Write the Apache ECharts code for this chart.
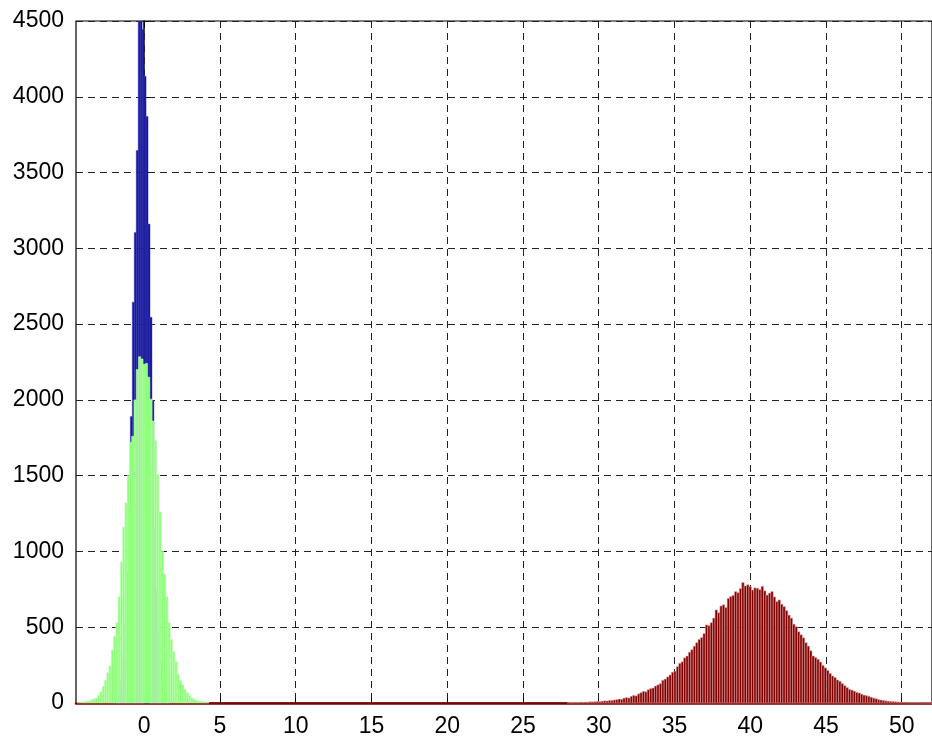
<!DOCTYPE html>
<html>
<head>
<meta charset="utf-8">
<script src="https://cdn.jsdelivr.net/npm/echarts@6/dist/echarts.min.js"></script>
<style>
html,body{margin:0;padding:0;background:#fff;}
#chart{width:932px;height:738px;}
</style>
</head>
<body>
<div id="chart"></div>
<script>
// ---- data (histogram bin counts) ----
const xTicks = [0, 5, 10, 15, 20, 25, 30, 35, 40, 45, 50];
const yTicks = [0, 500, 1000, 1500, 2000, 2500, 3000, 3500, 4000, 4500];

// blue series: first bin centre, bin width, counts
const blueStart = -1.89;
const blueWidth = 0.13;
const blueCounts = [13, 33, 76, 154, 293, 520, 863, 1300, 1890, 2645, 3105, 3645, 4520, 4560,
  4445, 4135, 3870, 3160, 2545, 1995, 1150, 755, 470, 278, 155, 82, 40, 18];

// green series
const greenStart = -4.35;
const greenWidth = 0.15;
const greenCounts = [3, 6, 5, 9, 12, 14, 22, 28, 33, 52, 75, 110, 150, 200, 245, 350, 440, 530,
  700, 930, 1160, 1320, 1500, 1720, 1760, 2000, 2200, 2285, 2270, 2235, 2240, 2150, 2005, 1860,
  1730, 1510, 1260, 1000, 850, 700, 530, 420, 340, 275, 190, 150, 120, 90, 68, 50, 35, 26, 18,
  14, 11, 9, 6, 4];

// dark red series
const redStart = 28.0;
const redWidth = 0.16;
const redCounts = [2, 3, 2, 4, 3, 5, 4, 6, 5, 8, 7, 9, 10, 9, 12, 14, 13, 17, 16, 20,
  22, 26, 24, 32, 36, 33, 44, 50, 47, 60, 68, 77, 74, 88, 95, 99, 112, 120, 128, 150,
  158, 172, 185, 203, 210, 240, 262, 272, 298, 310, 335, 352, 375, 398, 420, 432, 458, 515, 510, 530,
  560, 614, 595, 640, 648, 630, 690, 702, 710, 735, 728, 755, 795, 772, 780, 768, 745, 760, 757, 748,
  770, 740, 712, 725, 735, 700, 669, 680, 652, 636, 610, 580, 560, 520, 504, 470, 450, 430, 398, 375,
  345, 310, 300, 288, 270, 248, 232, 215, 195, 178, 168, 152, 143, 128, 115, 102, 90, 85, 78, 70,
  66, 58, 52, 48, 44, 38, 32, 28, 22, 20, 17, 14, 12, 10, 9, 8, 7, 6, 5, 5,
  4, 4, 3, 3, 2, 3, 2, 2, 2, 1, 1];

function toData(start, width, counts) {
  return counts.map((c, i) => [start + i * width, c, width]);
}

function makeSeries(name, start, width, counts, fill, edge) {
  return {
    name: name,
    type: 'custom',
    data: toData(start, width, counts),
    encode: { x: 0, y: 1 },
    renderItem: function (params, api) {
      const x = api.value(0), y = api.value(1), w = api.value(2);
      const p0 = api.coord([x - w / 2, y]);
      const p1 = api.coord([x + w / 2, 0]);
      const cs = params.coordSys;
      const rect = echarts.graphic.clipRectByRect(
        { x: p0[0], y: p0[1], width: p1[0] - p0[0], height: p1[1] - p0[1] },
        { x: cs.x, y: cs.y, width: cs.width, height: cs.height }
      );
      if (!rect) return null;
      return {
        type: 'rect',
        shape: rect,
        style: { fill: fill, stroke: edge, lineWidth: 0.6 }
      };
    }
  };
}

const chart = echarts.init(document.getElementById('chart'), null, { renderer: 'canvas' });
const fontFam = '"Liberation Sans", Arial, Helvetica, sans-serif';

chart.setOption({
  animation: false,
  backgroundColor: '#ffffff',
  grid: {
    left: 76, top: 21, right: -3, bottom: 33,
    show: true, borderColor: '#000', borderWidth: 1.2, backgroundColor: 'transparent'
  },
  xAxis: {
    type: 'value',
    min: -4.5,
    max: 52,
    axisLine: { show: true, onZero: false, lineStyle: { color: '#7d0000', width: 2.5 } },
    axisTick: { show: true, inside: true, length: 5, customValues: xTicks, lineStyle: { color: '#000' } },
    axisLabel: {
      customValues: xTicks, color: '#000', fontSize: 23, fontFamily: fontFam, margin: 12,
      formatter: v => String(v)
    },
    splitLine: { show: true, lineStyle: { color: '#222', width: 1, type: [7, 5] } }
  },
  yAxis: {
    type: 'value',
    min: 0,
    max: 4500,
    interval: 500,
    axisLine: { show: true, lineStyle: { color: '#000', width: 1.5 } },
    axisTick: { show: true, inside: true, length: 5, customValues: yTicks, lineStyle: { color: '#000' } },
    axisLabel: {
      customValues: yTicks, color: '#000', fontSize: 23, fontFamily: fontFam, margin: 12,
      formatter: v => String(v)
    },
    splitLine: { show: true, lineStyle: { color: '#222', width: 1, type: [7, 5] } }
  },
  series: [
    makeSeries('blue', blueStart, blueWidth, blueCounts, '#00008f', 'rgba(90,90,200,0.9)'),
    makeSeries('green', greenStart, greenWidth, greenCounts, '#8cff78', 'rgba(200,255,190,0.9)'),
    makeSeries('red', redStart, redWidth, redCounts, '#800000', 'rgba(230,170,170,0.9)')
  ]
});
</script>
</body>
</html>
